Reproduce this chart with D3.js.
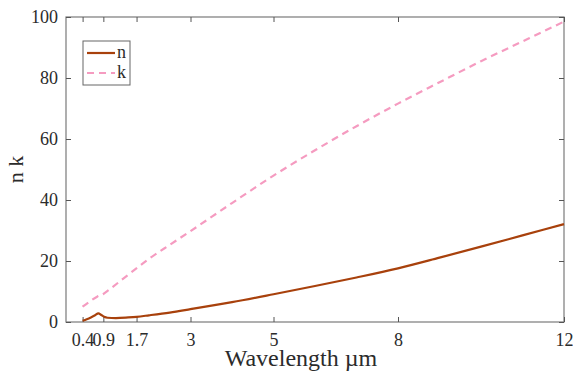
<!DOCTYPE html>
<html>
<head>
<meta charset="utf-8">
<script src="https://cdn.jsdelivr.net/npm/d3@7"></script>
<style>
  body { margin: 0; background: #fff; }
  svg text { font-family: "Liberation Serif", "Times New Roman", serif; fill: #2b2b2b; }
</style>
</head>
<body>
<div id="chart"></div>
<script>
// wavelength (um) and optical constants
const lambdaN = [0.4, 0.5, 0.6, 0.7, 0.78, 0.85, 0.92, 1.0, 1.2, 1.5, 1.7, 2, 2.5, 3, 4, 5, 6, 7, 8, 9, 10, 11, 12];
const nValues = [0.4, 0.9, 1.5, 2.2, 2.85, 2.3, 1.7, 1.4, 1.3, 1.5, 1.7, 2.2, 3.1, 4.2, 6.5, 9.1, 11.8, 14.6, 17.6, 21.1, 24.7, 28.4, 32.1];
const lambdaK = [0.4, 0.6, 0.75, 0.9, 1.0, 1.5, 2, 2.5, 3, 4, 5, 6, 7, 8, 9, 10, 11, 12];
const kValues = [5.0, 7.0, 8.3, 9.2, 10.2, 15.5, 20.7, 25.3, 29.8, 39.0, 48.0, 56.3, 64.2, 71.6, 78.6, 85.5, 92.0, 98.5];
const xTicks = [0.4, 0.9, 1.7, 3, 5, 8, 12];
const yTicks = [0, 20, 40, 60, 80, 100];

const width = 573, height = 375;
const margin = {top: 17, right: 9, bottom: 53, left: 66};

const svg = d3.select("#chart").append("svg")
    .attr("width", width)
    .attr("height", height);

const x = d3.scaleLinear().domain([0, 12]).range([margin.left, width - margin.right]);
const y = d3.scaleLinear().domain([0, 100]).range([height - margin.bottom, margin.top]);

const axisColor = "#7a7a7a";

// plot box
svg.append("rect")
    .attr("x", x(0)).attr("y", y(100))
    .attr("width", x(12) - x(0)).attr("height", y(0) - y(100))
    .attr("fill", "none").attr("stroke", axisColor).attr("stroke-width", 1.2);

function styleAxis(g) {
    g.attr("font-family", null);
    g.select(".domain").remove();
    g.selectAll(".tick line").attr("stroke", "#555");
    g.selectAll(".tick text")
        .style("font-size", "18px")
        .attr("fill", "#2b2b2b");
}

svg.append("g")
    .attr("transform", "translate(0," + y(0) + ")")
    .call(d3.axisBottom(x).tickValues(xTicks).tickFormat(d => d).tickSizeInner(-5).tickPadding(11))
    .call(styleAxis);

svg.append("g")
    .attr("transform", "translate(0," + y(100) + ")")
    .call(d3.axisTop(x).tickValues(xTicks).tickFormat("").tickSizeInner(-5))
    .call(styleAxis);

svg.append("g")
    .attr("transform", "translate(" + x(0) + ",0)")
    .call(d3.axisLeft(y).tickValues(yTicks).tickSizeInner(-5).tickPadding(8))
    .call(styleAxis);

svg.append("g")
    .attr("transform", "translate(" + x(12) + ",0)")
    .call(d3.axisRight(y).tickValues(yTicks).tickFormat("").tickSizeInner(-5))
    .call(styleAxis);

// axis titles
svg.append("text")
    .attr("x", 301).attr("y", 366)
    .attr("text-anchor", "middle")
    .style("font-size", "24px")
    .text("Wavelength \u00b5m");

svg.append("text")
    .attr("transform", "translate(23," + ((y(0) + y(100)) / 2) + ") rotate(-90)")
    .attr("text-anchor", "middle")
    .style("font-size", "22px")
    .text("n k");

const line = d3.line().curve(d3.curveMonotoneX);

svg.append("path")
    .attr("d", line(lambdaK.map((d, i) => [x(d), y(kValues[i])])))
    .attr("fill", "none")
    .attr("stroke", "#f59bc0")
    .attr("stroke-width", 2.2)
    .attr("stroke-dasharray", "7,5");

svg.append("path")
    .attr("d", line(lambdaN.map((d, i) => [x(d), y(nValues[i])])))
    .attr("fill", "none")
    .attr("stroke", "#a8410c")
    .attr("stroke-width", 2.2);

// legend
const legend = svg.append("g").attr("transform", "translate(83,41)");
legend.append("rect")
    .attr("width", 47).attr("height", 44)
    .attr("fill", "#fff").attr("stroke", "#666").attr("stroke-width", 1);

const legendItems = [
    {label: "n", color: "#a8410c", dash: null},
    {label: "k", color: "#f59bc0", dash: "7,5"}
];
legendItems.forEach((d, i) => {
    const yy = 12 + i * 20;
    legend.append("line")
        .attr("x1", 4).attr("x2", 32).attr("y1", yy).attr("y2", yy)
        .attr("stroke", d.color).attr("stroke-width", 2.2)
        .attr("stroke-dasharray", d.dash);
    legend.append("text")
        .attr("x", 34).attr("y", yy + 5)
        .style("font-size", "18px")
        .text(d.label);
});
</script>
</body>
</html>
